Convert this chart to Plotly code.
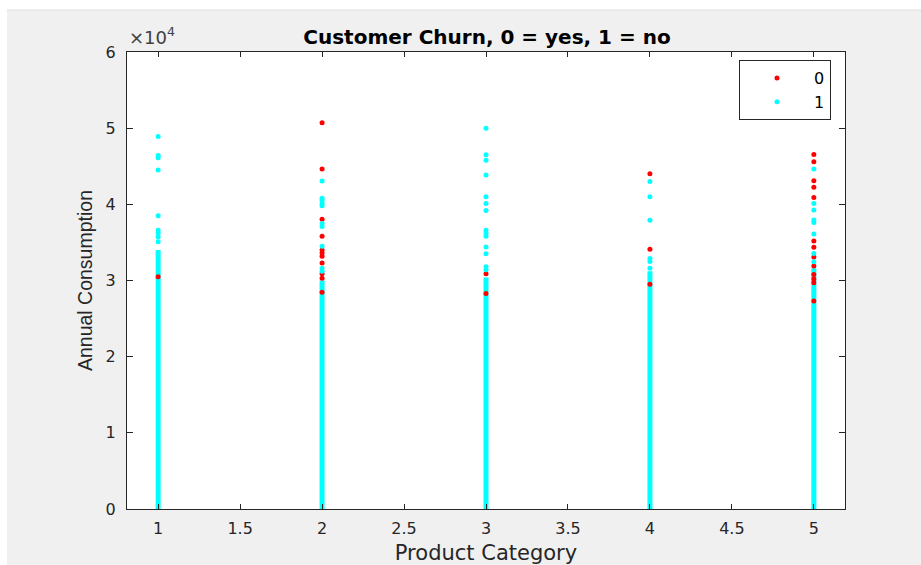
import plotly.graph_objects as go

# ---------------- data ----------------
categories = [1, 2, 3, 4, 5]

# top of the dense cyan (group 1) column for each category; the column runs from 0
band_bottom = [0, 0, 0, 0, 0]
band_top = [34000, 30000, 30400, 31200, 31600]

# discrete group 1 (no churn) points visible above / around the dense column
g1_cat1 = [48900, 46400, 46100, 44500, 38500, 36600, 36200, 35700, 35100]
g1_cat2 = [43050, 40800, 40500, 40100, 39800, 37500, 37100, 34500, 31600, 31200]
g1_cat3 = [50000, 46500, 45800, 43850, 41000, 40100, 39200, 36600, 36200, 35800,
           34400, 33500, 31800, 31400]
g1_cat4 = [43000, 41000, 37900, 32900, 32500, 31600]
g1_cat5 = [44650, 40100, 39250, 37950, 37600, 36100, 33550, 32450]

# group 0 (churn) points
g0_cat1 = [30500]
g0_cat2 = [50700, 44650, 38050, 35800, 34000, 33600, 33200, 32300, 30900, 30300, 28450]
g0_cat3 = [30900, 28300]
g0_cat4 = [44000, 34100, 29500]
g0_cat5 = [46550, 45600, 43100, 42250, 40900, 35200, 34350, 33100, 31900, 30800,
           30200, 29700, 27300]

g1_values = [g1_cat1, g1_cat2, g1_cat3, g1_cat4, g1_cat5]
g0_values = [g0_cat1, g0_cat2, g0_cat3, g0_cat4, g0_cat5]

x_ticks = [1, 1.5, 2, 2.5, 3, 3.5, 4, 4.5, 5]
x_ticktext = ["1", "1.5", "2", "2.5", "3", "3.5", "4", "4.5", "5"]
y_ticks = [0, 10000, 20000, 30000, 40000, 50000, 60000]
y_ticktext = ["0", "1", "2", "3", "4", "5", "6"]

RED = "#FF0000"
CYAN = "#00FFFF"
AX = "#262626"
FONT = "DejaVu Sans, Arial, sans-serif"
FONT_Y = "Liberation Sans, Arial, sans-serif"

fig = go.Figure()

# dense cyan columns (group 1)
for c, lo, hi in zip(categories, band_bottom, band_top):
    fig.add_trace(go.Scatter(x=[c, c], y=[lo, hi], mode="lines",
                             line=dict(color=CYAN, width=5),
                             showlegend=False, hoverinfo="skip"))

# group 0
x0, y0 = [], []
for c, vals in zip(categories, g0_values):
    x0 += [c] * len(vals)
    y0 += vals
fig.add_trace(go.Scatter(x=x0, y=y0, mode="markers", name="0",
                         marker=dict(color=RED, size=5, line=dict(width=0))))

# group 1
x1, y1 = [], []
for c, vals in zip(categories, g1_values):
    x1 += [c] * len(vals)
    y1 += vals
fig.add_trace(go.Scatter(x=x1, y=y1, mode="markers", name="1",
                         marker=dict(color=CYAN, size=5, line=dict(width=0))))

W, H = 921, 565
L, R, T, B = 127, 845, 52, 509
pw, ph = R - L, B - T

def px(xp):
    return (xp - L) / pw

def py(yp):
    return (B - yp) / ph

fig.update_layout(
    width=W, height=H,
    margin=dict(l=L, r=W - R, t=T, b=H - B, pad=0, autoexpand=False),
    paper_bgcolor="#F0F0F0",
    plot_bgcolor="white",
    font=dict(family=FONT, size=16, color=AX),
    title=dict(text="<b>Customer Churn, 0 = yes, 1 = no</b>",
               x=px(487), xref="paper", xanchor="center",
               y=1 - 37 / H, yref="container", yanchor="middle",
               font=dict(family=FONT, size=20, color="black")),
    xaxis=dict(range=[0.81, 5.19], tickvals=x_ticks, ticktext=x_ticktext,
               showgrid=False, zeroline=False, showline=True, linecolor=AX,
               linewidth=1, mirror="ticks", ticks="inside", ticklen=5,
               tickcolor=AX, tickfont=dict(family=FONT, size=16, color=AX),
               ticklabelstandoff=5, automargin=False,
               title=dict(text="Product Category", standoff=10,
                          font=dict(family=FONT, size=21, color=AX))),
    yaxis=dict(range=[0, 60000], tickvals=y_ticks, ticktext=y_ticktext,
               showgrid=False, zeroline=False, showline=True, linecolor=AX,
               linewidth=1, mirror="ticks", ticks="inside", ticklen=6,
               tickcolor=AX, tickfont=dict(family=FONT, size=16, color=AX),
               ticklabelstandoff=7, automargin=False,
               title=dict(text="Annual Consumption", standoff=7,
                          font=dict(family=FONT_Y, size=19.5, color=AX))),
    legend=dict(x=px(831), xanchor="right", y=py(60), yanchor="top",
                bgcolor="white", bordercolor=AX, borderwidth=1,
                font=dict(family=FONT, size=16, color="black"), itemwidth=64,
                tracegroupgap=0),
    showlegend=True,
)

# x10^4 multiplier
fig.add_annotation(text="×10<sup>4</sup>", xref="paper", yref="paper",
                   x=0, y=py(50), xanchor="left", yanchor="bottom",
                   showarrow=False, font=dict(family=FONT, size=18, color="#404040"))

# white strips along the top and left edges of the screenshot
fig.add_shape(type="rect", xref="paper", yref="paper", layer="above",
              x0=px(0), x1=px(W), y0=py(10), y1=py(0),
              fillcolor="white", line=dict(width=0))
fig.add_shape(type="rect", xref="paper", yref="paper", layer="above",
              x0=px(0), x1=px(7), y0=py(H), y1=py(0),
              fillcolor="white", line=dict(width=0))
fig.add_shape(type="line", xref="paper", yref="paper", layer="above",
              x0=px(7), x1=px(W), y0=py(10), y1=py(10),
              line=dict(color="#E0E0E0", width=1))

fig.write_html("out.html")
